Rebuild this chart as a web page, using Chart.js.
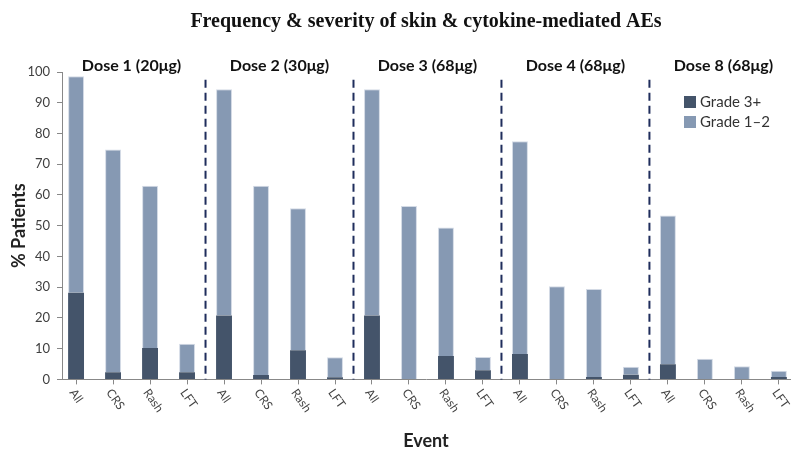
<!DOCTYPE html>
<html>
<head>
<meta charset="utf-8">
<script src="https://cdn.jsdelivr.net/npm/chart.js@4.4.1/dist/chart.umd.min.js"></script>
<style>
  html, body { margin: 0; padding: 0; background: #fff; }
</style>
</head>
<body>
<canvas id="aeChart" width="791" height="452"></canvas>
<script>
// values, dose groups of 4 events each
const doses = ['Dose 1 (20μg)', 'Dose 2 (30μg)', 'Dose 3 (68μg)', 'Dose 4 (68μg)', 'Dose 8 (68μg)'];
const events = ['All', 'CRS', 'Rash', 'LFT'];
const grade3Plus = [28.2, 2.3, 10.2, 2.3, 20.8, 1.4, 9.5, 0.7, 20.8, 0, 7.6, 3.0, 8.3, 0, 0.8, 1.5, 4.9, 0, 0, 0.8];
const grade12 = [70.4, 72.5, 52.8, 9.3, 73.6, 61.6, 46.2, 6.5, 73.6, 56.4, 41.8, 4.3, 69.2, 30.3, 28.6, 2.6, 48.4, 6.7, 4.3, 2.0];
const yTicks = [0, 10, 20, 30, 40, 50, 60, 70, 80, 90, 100];

(function () {
  const sans = 'Lato, "Open Sans", sans-serif';
  const darkColor = '#44546a';
  const lightColor = '#8699b3';

  const eventLabels = doses.flatMap(() => events);
  const positions = eventLabels.map((_, i) => i);

  const overlay = {
    id: 'overlay',
    afterDraw(chart) {
      const { ctx, chartArea } = chart;
      const x = chart.scales.x;
      const y = chart.scales.y;
      ctx.save();

      // dashed separators between dose groups
      ctx.strokeStyle = '#1f2d5c';
      ctx.lineWidth = 2;
      ctx.setLineDash([8, 5]);
      for (let g = 1; g < doses.length; g++) {
        const px = x.getPixelForValue(g * events.length - 0.5);
        ctx.beginPath();
        ctx.moveTo(px, y.getPixelForValue(97.5));
        ctx.lineTo(px, chartArea.bottom);
        ctx.stroke();
      }
      ctx.setLineDash([]);

      // dose headers
      ctx.fillStyle = '#111';
      ctx.font = 'bold 16px ' + sans;
      ctx.textAlign = 'center';
      ctx.textBaseline = 'middle';
      doses.forEach((d, g) => {
        const a = x.getPixelForValue(g * events.length);
        const b = x.getPixelForValue(g * events.length + events.length - 1);
        ctx.fillText(d, (a + b) / 2, 66);
      });

      // rotated event labels
      ctx.fillStyle = '#444';
      ctx.font = '12px ' + sans;
      ctx.textAlign = 'left';
      eventLabels.forEach((lab, i) => {
        const px = x.getPixelForValue(positions[i]);
        ctx.save();
        ctx.translate(px - 4, chartArea.bottom + 11);
        ctx.rotate(55 * Math.PI / 180);
        ctx.fillText(lab, 0, 0);
        ctx.restore();
      });

      // legend
      const items = [['Grade 3+', darkColor], ['Grade 1–2', lightColor]];
      ctx.font = '15px ' + sans;
      ctx.textBaseline = 'middle';
      items.forEach((it, k) => {
        const cy = 102 + k * 20;
        ctx.fillStyle = it[1];
        ctx.fillRect(684, cy - 6, 12, 12);
        ctx.fillStyle = '#333';
        ctx.fillText(it[0], 700, cy);
      });

      ctx.restore();
    }
  };

  new Chart(document.getElementById('aeChart'), {
    type: 'bar',
    data: {
      labels: positions,
      datasets: [
        { label: 'Grade 3+', data: grade3Plus, backgroundColor: darkColor, borderWidth: 0 },
        { label: 'Grade 1–2', data: grade12, backgroundColor: lightColor, borderColor: '#d3dae5', borderWidth: 1 }
      ]
    },
    options: {
      responsive: false,
      animation: false,
      layout: { padding: { left: 1, right: 1, bottom: 0, top: 0 } },
      datasets: { bar: { categoryPercentage: 1, barPercentage: 0.43 } },
      scales: {
        x: {
          type: 'linear',
          min: -0.38,
          max: 19.3,
          stacked: true,
          offset: false,
          afterBuildTicks: (s) => { s.ticks = positions.map((v) => ({ value: v })); },
          ticks: { display: false },
          grid: { offset: false, drawOnChartArea: false, drawTicks: true, tickLength: 5, color: '#888' },
          border: { color: '#888' },
          title: {
            display: true,
            text: 'Event',
            color: '#222',
            font: { family: sans, size: 18, weight: 'bold' },
            padding: { top: 46, bottom: 0 }
          }
        },
        y: {
          min: 0,
          max: 100,
          stacked: true,
          afterBuildTicks: (s) => { s.ticks = yTicks.map((v) => ({ value: v })); },
          afterFit: (s) => { s.width = 61; },
          ticks: { color: '#404040', font: { family: sans, size: 13 }, padding: 7 },
          grid: { drawOnChartArea: false, drawTicks: true, tickLength: 5, color: '#888' },
          border: { color: '#888' },
          title: {
            display: true,
            text: '% Patients',
            color: '#222',
            font: { family: sans, size: 18, weight: 'bold' },
            padding: { top: 7, bottom: 0 }
          }
        }
      },
      plugins: {
        legend: { display: false },
        tooltip: { enabled: false },
        title: {
          display: true,
          fullSize: false,
          text: 'Frequency & severity of skin & cytokine-mediated AEs',
          color: '#111',
          font: { family: '"Liberation Serif", "Times New Roman", serif', size: 20, weight: 'bold' },
          padding: { top: 10, bottom: 38 }
        }
      }
    },
    plugins: [overlay]
  });
})();
</script>
</body>
</html>
